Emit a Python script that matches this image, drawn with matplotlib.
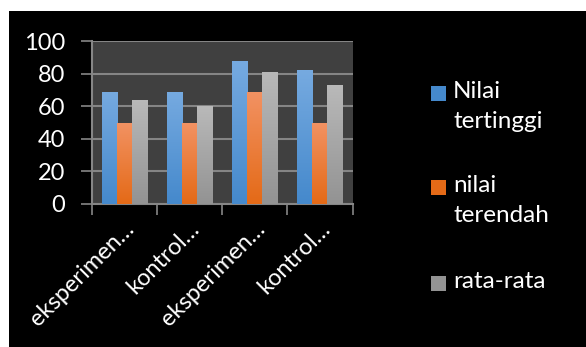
import numpy as np
import matplotlib
matplotlib.use('Agg')
import matplotlib.pyplot as plt
from matplotlib.patches import Rectangle
from matplotlib.colors import LinearSegmentedColormap
import matplotlib.transforms as mtransforms

plt.rcParams['font.family'] = ['Lato', 'DejaVu Sans']

categories = ['eksperimen…', 'kontrol…', 'eksperimen…', 'kontrol…']
series_names = ['Nilai\ntertinggi', 'nilai\nterendah', 'rata-rata']
nilai_tertinggi = [69, 69, 88, 82]
nilai_terendah = [50, 50, 69, 50]
rata_rata = [64, 60, 81, 73]
series_values = [nilai_tertinggi, nilai_terendah, rata_rata]
# gradient colours (top, bottom) per series
series_colors = [('#76aae0', '#4589cc'), ('#f29263', '#e46a17'), ('#b9b9b9', '#939393')]

W, H = 586, 347
fig = plt.figure(figsize=(W / 100, H / 100), dpi=100, facecolor='white')

# black chart area (white strip on top and left)
fig.patches.append(Rectangle((9 / W, 0), 1 - 9 / W, (H - 11) / H,
                             transform=fig.transFigure, facecolor='black',
                             edgecolor='none', zorder=-10))

ax = fig.add_axes([91.5 / W, (H - 204) / H, (352.5 - 91.5) / W, (204 - 41) / H])
ax.set_facecolor('#404040')

x = np.arange(len(categories))
width = 0.23
for i, (vals, (ctop, cbot)) in enumerate(zip(series_values, series_colors)):
    bars = ax.bar(x + (i - 1) * width, vals, width, color=cbot, zorder=2)
    cmap = LinearSegmentedColormap.from_list('g%d' % i, [cbot, ctop])
    for b in bars:
        x0, y0 = b.get_x(), b.get_y()
        grad = np.linspace(0, 1, 100).reshape(-1, 1)
        im = ax.imshow(grad, cmap=cmap, origin='lower', aspect='auto',
                       extent=[x0, x0 + b.get_width(), y0, y0 + b.get_height()],
                       zorder=3)
        im.set_clip_path(b)

ax.set_xlim(-0.5, len(categories) - 0.5)
ax.set_ylim(0, 100)
ax.set_yticks(range(0, 101, 20))
ax.yaxis.grid(True, color='#858585', linewidth=1.5, zorder=1)
ax.set_axisbelow(True)

ax.set_xticks(np.arange(len(categories) + 1) - 0.5, minor=False)
ax.set_xticklabels([])
ax.set_xticks(x, minor=True)
ax.set_xticklabels(categories, minor=True, rotation=45, ha='right', va='top',
                   rotation_mode='default', color='white', fontsize=17)
ax.tick_params(axis='x', which='minor', length=0, pad=10)
ax.tick_params(axis='x', which='major', length=8, color='#868686', width=1.2)
ax.tick_params(axis='y', length=8, color='#868686', width=1.2, labelcolor='white',
               labelsize=17, pad=11)

offset = mtransforms.ScaledTranslation(0.14, 0, fig.dpi_scale_trans)
for lbl in ax.get_xticklabels(minor=True):
    lbl.set_transform(lbl.get_transform() + offset)

for s in ['top', 'right']:
    ax.spines[s].set_visible(False)
for s in ['left', 'bottom']:
    ax.spines[s].set_color('#868686')
    ax.spines[s].set_linewidth(1.5)

# legend drawn by hand to match the layout
leg_tops = [93, 187, 283]
for name, (ctop, cbot), yt in zip(series_names, series_colors, leg_tops):
    fig.patches.append(Rectangle((431 / W, 1 - (yt + 8) / H), 15 / W, 15 / H,
                                 transform=fig.transFigure, facecolor=cbot,
                                 edgecolor='none', zorder=5))
    fig.text(453 / W, 1 - (yt - 12) / H, name, color='white', fontsize=17.5,
             va='top', ha='left', linespacing=1.5)

fig.savefig('out.png', dpi=100, facecolor=fig.get_facecolor())
